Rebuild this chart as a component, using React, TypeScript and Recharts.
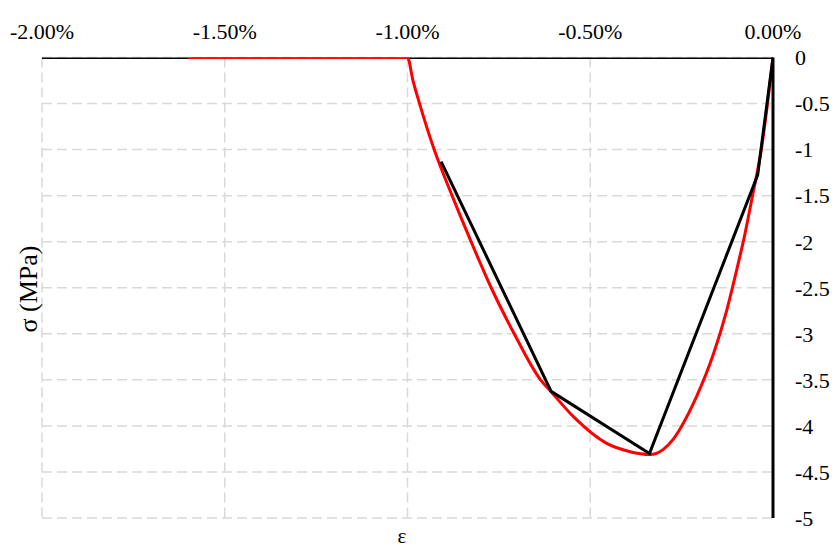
import { LineChart, Line, XAxis, YAxis, CartesianGrid } from 'recharts';

// strain in %, stress in MPa
const redStrain = [-1.6, -1.0, -0.985, -0.967, -0.927, -0.878, -0.826, -0.771, -0.708, -0.636, -0.607, -0.546, -0.455, -0.391, -0.337, -0.32, -0.3, -0.275, -0.254, -0.209, -0.163, -0.127, -0.099, -0.077, -0.056, -0.032, -0.015, 0];
const redStress = [0, 0, -0.25, -0.5, -1.0, -1.5, -2.0, -2.5, -3.0, -3.5, -3.63, -3.9, -4.19, -4.28, -4.31, -4.3, -4.255, -4.155, -4.03, -3.68, -3.22, -2.75, -2.3, -1.92, -1.5, -1.0, -0.5, 0];

const blackStrain = [-0.908, -0.607, -0.338, -0.042, 0];
const blackStress = [-1.13, -3.625, -4.3, -1.277, 0];

// zero-stress baseline along the top of the plot
const baseStrain = [-2, 0];
const baseStress = [0, 0];

const xTicks = [-2, -1.5, -1, -0.5, 0];
const yTicks = [0, -0.5, -1, -1.5, -2, -2.5, -3, -3.5, -4, -4.5, -5];

const redData = redStrain.map((x, i) => ({ x, y: redStress[i] }));
const blackData = blackStrain.map((x, i) => ({ x, y: blackStress[i] }));
const baseData = baseStrain.map((x, i) => ({ x, y: baseStress[i] }));

const font = '"Liberation Serif", "Times New Roman", serif';

export default function App() {
  return (
    <div style={{ position: 'absolute', left: 0, top: 0, width: 836, height: 550, fontFamily: font }}>
      <LineChart width={836} height={550} margin={{ top: 0, right: 0, left: 42, bottom: 32 }}>
        <CartesianGrid
          stroke="#d9d9d9"
          strokeWidth={1.5}
          strokeDasharray="10 5"
          horizontalValues={yTicks}
          verticalValues={xTicks}
        />
        <XAxis
          type="number"
          dataKey="x"
          orientation="top"
          height={57.5}
          domain={[-2, 0]}
          ticks={xTicks}
          allowDataOverflow
          tickFormatter={(v: number) => v.toFixed(2) + '%'}
          tick={{ fill: '#000', fontSize: 22, fontFamily: font }}
          tickSize={0}
          tickMargin={19}
          axisLine={false}
        />
        <YAxis
          type="number"
          dataKey="y"
          orientation="right"
          width={63}
          domain={[-5, 0]}
          ticks={yTicks}
          allowDataOverflow
          tickFormatter={(v: number) => String(v)}
          tick={{ fill: '#000', fontSize: 22, fontFamily: font, textAnchor: 'start' }}
          tickSize={0}
          tickMargin={22}
          axisLine={{ stroke: '#000', strokeWidth: 3 }}
        />
        <Line data={baseData} dataKey="y" type="linear" stroke="#000" strokeWidth={3} dot={false} isAnimationActive={false} />
        <Line data={redData} dataKey="y" type="monotone" stroke="#ff0000" strokeWidth={3} dot={false} isAnimationActive={false} />
        <Line data={blackData} dataKey="y" type="linear" stroke="#000" strokeWidth={3} dot={false} isAnimationActive={false} />
      </LineChart>
      <div style={{ position: 'absolute', left: 28.5, top: 289, transform: 'translate(-50%, -50%) rotate(-90deg)', fontSize: 26, whiteSpace: 'nowrap' }}>
        σ (MPa)
      </div>
      <div style={{ position: 'absolute', left: 402, top: 536, transform: 'translate(-50%, -50%)', fontSize: 21 }}>
        ε
      </div>
    </div>
  );
}
